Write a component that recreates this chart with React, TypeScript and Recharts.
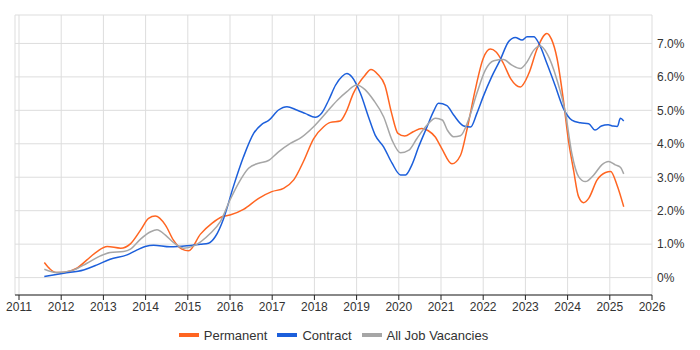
import React from 'react';
import { LineChart, Line, XAxis, YAxis, CartesianGrid, Legend } from 'recharts';

// share of vacancies (%), one date list per series
const permDates = [
    2011.6, 2011.74, 2011.9, 2012.12, 2012.37, 2012.61, 2012.85, 2013.09, 2013.41, 2013.64,
    2013.88, 2014.07, 2014.23, 2014.47, 2014.66, 2014.86, 2015.02, 2015.3, 2015.57, 2015.81,
    2016.0, 2016.32, 2016.68, 2016.99, 2017.27, 2017.51, 2017.74, 2017.98, 2018.22, 2018.38,
    2018.61, 2018.75, 2018.92, 2019.05, 2019.2, 2019.34, 2019.5, 2019.67, 2019.83, 2019.98,
    2020.14, 2020.34, 2020.54, 2020.7, 2020.86, 2021.01, 2021.26, 2021.46, 2021.62, 2021.8,
    2022.0, 2022.17, 2022.3, 2022.48, 2022.65, 2022.88, 2023.08, 2023.28, 2023.51, 2023.62,
    2023.75, 2023.9, 2024.02, 2024.14, 2024.26, 2024.38, 2024.5, 2024.7, 2024.9, 2025.02,
    2025.17, 2025.33,
];
const permRates = [
    0.45, 0.25, 0.15, 0.17, 0.28, 0.53, 0.78, 0.93, 0.88, 1.01,
    1.42, 1.77, 1.84, 1.57, 1.12, 0.85, 0.8, 1.3, 1.62, 1.82,
    1.87, 2.04, 2.37, 2.57, 2.67, 2.92, 3.47, 4.15, 4.51, 4.64,
    4.68, 4.95, 5.5, 5.8, 6.05, 6.22, 6.08, 5.75, 4.91, 4.31,
    4.23, 4.36, 4.46, 4.39, 4.21, 3.88, 3.4, 3.65, 4.45, 5.55,
    6.55, 6.83, 6.75, 6.4, 5.95, 5.7, 6.1, 6.85, 7.3, 7.12,
    6.55, 5.31, 4.1, 3.22, 2.42, 2.24, 2.37, 2.92, 3.14, 3.17,
    2.77, 2.12,
];

const contDates = [
    2011.6, 2012.06, 2012.53, 2012.85, 2013.16, 2013.56, 2013.8, 2013.99, 2014.19, 2014.58,
    2014.98, 2015.3, 2015.49, 2015.65, 2015.85, 2016.08, 2016.32, 2016.56, 2016.76, 2016.91,
    2017.15, 2017.35, 2017.58, 2017.78, 2018.02, 2018.17, 2018.34, 2018.5, 2018.66, 2018.77,
    2018.89, 2019.09, 2019.28, 2019.44, 2019.64, 2019.84, 2020.04, 2020.16, 2020.31, 2020.47,
    2020.67, 2020.82, 2020.94, 2021.14, 2021.3, 2021.54, 2021.7, 2021.85, 2022.0, 2022.2,
    2022.4, 2022.6, 2022.76, 2022.92, 2023.04, 2023.2, 2023.32, 2023.51, 2023.7, 2023.9,
    2024.1, 2024.3, 2024.5, 2024.65, 2024.8, 2024.96, 2025.08, 2025.18, 2025.25, 2025.33,
];
const contRates = [
    0.03, 0.13, 0.23, 0.38, 0.55, 0.68, 0.83, 0.93, 0.97, 0.92,
    0.95, 1.0, 1.03, 1.22, 1.77, 2.72, 3.61, 4.31, 4.59, 4.69,
    5.01, 5.11, 5.01, 4.91, 4.79, 4.91, 5.31, 5.75, 6.02, 6.1,
    6.0, 5.51, 4.81, 4.26, 3.91, 3.42, 3.07, 3.07, 3.37, 3.91,
    4.51, 4.96, 5.21, 5.14, 4.86, 4.53, 4.5, 4.91, 5.41, 6.0,
    6.5, 7.05, 7.18, 7.1, 7.2, 7.2, 7.0, 6.4, 5.76, 5.06,
    4.71, 4.63, 4.6, 4.41, 4.53, 4.57, 4.53, 4.52, 4.76, 4.68,
];

const allDates = [
    2011.6, 2011.9, 2012.3, 2012.61, 2012.93, 2013.16, 2013.48, 2013.64, 2013.88, 2014.12,
    2014.27, 2014.47, 2014.66, 2014.9, 2015.14, 2015.53, 2015.77, 2016.0, 2016.2, 2016.44,
    2016.68, 2016.91, 2017.15, 2017.43, 2017.7, 2017.98, 2018.3, 2018.55, 2018.77, 2019.0,
    2019.2, 2019.4, 2019.64, 2019.84, 2020.04, 2020.24, 2020.43, 2020.67, 2020.87, 2021.03,
    2021.15, 2021.3, 2021.46, 2021.65, 2021.85, 2022.05, 2022.25, 2022.48, 2022.68, 2022.88,
    2023.04, 2023.2, 2023.36, 2023.51, 2023.75, 2023.95, 2024.1, 2024.26, 2024.42, 2024.62,
    2024.81, 2024.97, 2025.13, 2025.25, 2025.33,
];
const allRates = [
    0.25, 0.15, 0.23, 0.43, 0.65, 0.75, 0.78, 0.85, 1.15, 1.37,
    1.43, 1.27, 1.05, 0.88, 0.95, 1.32, 1.67, 2.32, 2.82, 3.27,
    3.42, 3.5, 3.76, 4.01, 4.2, 4.51, 4.96, 5.31, 5.56, 5.76,
    5.62, 5.31, 4.81, 4.11, 3.73, 3.81, 4.16, 4.56, 4.76, 4.71,
    4.41, 4.21, 4.24, 4.71, 5.51, 6.2, 6.48, 6.52, 6.35, 6.25,
    6.45, 6.8, 6.92, 6.7, 5.9, 4.91, 3.71, 3.02, 2.87, 3.07,
    3.37, 3.47, 3.37, 3.3, 3.1,
];

const yearTicks = [2011, 2012, 2013, 2014, 2015, 2016, 2017, 2018, 2019, 2020, 2021, 2022, 2023, 2024, 2025, 2026];
const rateTicks = [0, 1, 2, 3, 4, 5, 6, 7];

const toRows = (xs: number[], ys: number[]) => xs.map((x, i) => ({ x, v: ys[i] }));

const series = [
    { name: 'Permanent', color: '#ff6521', rows: toRows(permDates, permRates) },
    { name: 'Contract', color: '#1c5fdb', rows: toRows(contDates, contRates) },
    { name: 'All Job Vacancies', color: '#a6a6a6', rows: toRows(allDates, allRates) },
];

const font = '"Liberation Sans", Arial, sans-serif';

const renderLegend = () => (
    <div style={{ display: 'flex', justifyContent: 'center', alignItems: 'center', height: 30, fontFamily: font, fontSize: 13, color: '#333' }}>
        {series.map((s) => (
            <span key={s.name} style={{ display: 'flex', alignItems: 'center', margin: '0 5px' }}>
                <span style={{ display: 'inline-block', width: 20, height: 4, background: s.color, marginRight: 5 }} />
                {s.name}
            </span>
        ))}
    </div>
);

export default function App() {
    return (
        <div style={{ position: 'absolute', left: 0, top: 0 }}>
            <LineChart width={700} height={350} margin={{ top: 15, right: 0, left: 15, bottom: 0 }} style={{ fontFamily: font }}>
                <CartesianGrid stroke="#dddddd" />
                <XAxis
                    type="number"
                    dataKey="x"
                    domain={[2011, 2026]}
                    ticks={yearTicks}
                    padding={{ left: 4, right: 0 }}
                    height={25}
                    stroke="#222"
                    tickSize={5}
                    tickMargin={2}
                    tick={{ fill: '#333', fontSize: 12 }}
                    allowDataOverflow
                />
                <YAxis
                    orientation="right"
                    type="number"
                    domain={[-0.52, 7.85]}
                    ticks={rateTicks}
                    width={48}
                    axisLine={false}
                    tickLine={false}
                    tickSize={0}
                    tickMargin={5}
                    tick={{ fill: '#333', fontSize: 12 }}
                    tickFormatter={(v: number) => (v === 0 ? '0%' : v.toFixed(1) + '%')}
                    allowDataOverflow
                />
                <Legend verticalAlign="bottom" height={30} content={renderLegend} wrapperStyle={{ left: 15, width: 637 }} />
                {series.map((s) => (
                    <Line
                        key={s.name}
                        data={s.rows}
                        dataKey="v"
                        name={s.name}
                        type="monotone"
                        stroke={s.color}
                        strokeWidth={1.5}
                        dot={false}
                        isAnimationActive={false}
                    />
                ))}
            </LineChart>
        </div>
    );
}
